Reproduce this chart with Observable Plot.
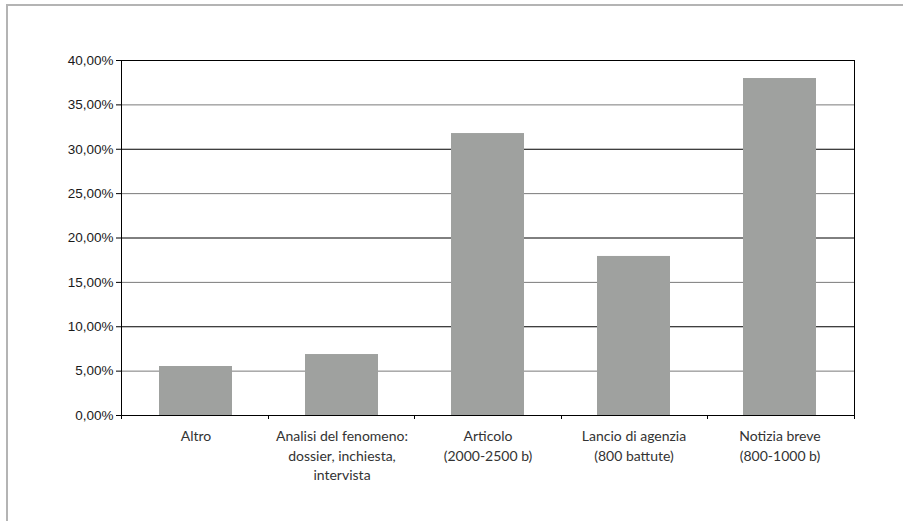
<!DOCTYPE html>
<html>
<head>
<meta charset="utf-8">
<script src="https://cdn.jsdelivr.net/npm/d3@7"></script>
<script src="https://cdn.jsdelivr.net/npm/@observablehq/plot@0.6"></script>
<style>
  html, body { margin: 0; padding: 0; background: #fff; }
  #wrap { position: relative; width: 903px; height: 521px; overflow: hidden; }
  #frame { position: absolute; left: 6px; top: 4px; width: 1000px; height: 1000px;
           border-top: 2px solid #b4b4b4; border-left: 2px solid #b4b4b4; box-sizing: border-box; }
  #chart { position: absolute; left: 0; top: 0; }
</style>
</head>
<body>
<div id="wrap"><div id="frame"></div><div id="chart"></div></div>
<script>
const categories = [
  "Altro",
  "Analisi del fenomeno: dossier, inchiesta, intervista",
  "Articolo (2000-2500 b)",
  "Lancio di agenzia (800 battute)",
  "Notizia breve (800-1000 b)"
];
const tickLabels = [
  "Altro",
  "Analisi del fenomeno:\ndossier, inchiesta,\nintervista",
  "Articolo\n(2000-2500 b)",
  "Lancio di agenzia\n(800 battute)",
  "Notizia breve\n(800-1000 b)"
];
const values = [5.52, 6.87, 31.77, 17.92, 37.97];
const yTicks = [0, 5, 10, 15, 20, 25, 30, 35, 40];

const data = categories.map((c, i) => ({category: c, value: values[i]}));
const labelOf = new Map(categories.map((c, i) => [c, tickLabels[i]]));
const fmt = v => v.toFixed(2).replace(".", ",") + "%";

const chart = Plot.plot({
  width: 903,
  height: 521,
  marginLeft: 121,
  marginRight: 49,
  marginTop: 60,
  marginBottom: 106,
  style: {background: "transparent", overflow: "visible"},
  x: {domain: categories, paddingInner: 0.5, paddingOuter: 0.25, label: null},
  y: {domain: [0, 40], label: null},
  marks: [
    Plot.ruleY(yTicks, {stroke: d => d % 10 === 0 ? "#000" : "#7a7a7a", strokeWidth: 1}),
    Plot.barY(data, {x: "category", y: "value", fill: "#9fa19f"}),
    Plot.frame({stroke: "#000", strokeWidth: 1}),
    Plot.axisY({ticks: yTicks, tickFormat: fmt, tickSize: 5, tickPadding: 3, label: null,
      fontFamily: "Liberation Sans, Arial, sans-serif", fontSize: 13.5, fill: "#1a1a1a", stroke: "#000"}),
    Plot.axisX({tickSize: 0, tickPadding: 12, tickFormat: d => labelOf.get(d), label: null,
      fontFamily: "Lato, 'Open Sans', sans-serif", fontSize: 14, lineHeight: 1.38, fill: "#333"})
  ]
});
document.getElementById("chart").append(chart);

// boundary tick marks between categories (derived from chart's x scale)
const xs = chart.scale("x");
const [r0, r1] = xs.range;
const n = categories.length;
const svg = d3.select(chart);
const y0 = chart.scale("y").apply(0);
const bounds = d3.range(n + 1).map(i => r0 + i * (r1 - r0) / n);
svg.append("g").selectAll("line").data(bounds).join("line")
  .attr("x1", d => Math.round(d) + 0.5).attr("x2", d => Math.round(d) + 0.5)
  .attr("y1", y0).attr("y2", y0 + 4)
  .attr("stroke", "#000");
</script>
</body>
</html>
